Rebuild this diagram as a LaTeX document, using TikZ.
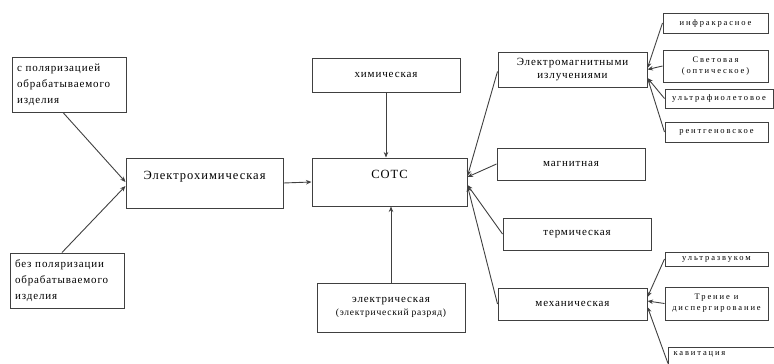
\documentclass[tikz,border=0pt]{standalone}
\usepackage{fontspec}
\setmainfont{Liberation Serif}[LetterSpace=8]
\newfontfamily\leaffont{Liberation Serif}[LetterSpace=22]
\usetikzlibrary{arrows.meta}

\begin{document}
\begin{tikzpicture}[
    x = 1pt, y = -1pt,
    box/.style = {
        draw = black!75, line width = 1pt, fill = white,
        inner sep = 3pt, align = center,
        font = \fontsize{11}{13}\selectfont
    },
    note/.style = {box, align = left, font = \fontsize{11}{16}\selectfont},
    headbox/.style = {box, inner ysep = 0pt, font = \fontsize{12.5}{14}\selectfont},
    leaf/.style = {box, inner sep = 1pt, font = \leaffont\fontsize{8.5}{11}\selectfont},
    link/.style = {draw = black!75, line width = 0.9pt, -{Stealth[length = 5.5pt, width = 4.5pt]}}
]
\useasboundingbox (0,0) rectangle (774,364);

% sources of the electrochemical action
\node [note, minimum width = 114, minimum height = 55, text width = 104] (pola) at (69,84.5)
    {с поляризацией обрабатываемого изделия};
\node [note, minimum width = 114, minimum height = 55, text width = 104] (nopola) at (67,280.5)
    {без поляризации обрабатываемого изделия};
\node [headbox, minimum width = 157, text height = 21, text depth = 29] (echem) at (204.5,183)
    {Электрохимическая};

% the centre
\node [headbox, minimum width = 155, text height = 20, text depth = 28] (sots) at (389.5,182) {СОТС};
\node [box, minimum width = 148, minimum height = 34] (chem) at (386,75) {химическая};
\node [box, minimum width = 148, minimum height = 49] (elec) at (391,307.5)
    {электрическая\\{\fontsize{9.5}{12}\selectfont(электрический разряд)}};

% right column
\node [box, minimum width = 149, minimum height = 35] (emrad) at (572.5,69.5)
    {Электромагнитными\\излучениями};
\node [box, minimum width = 148, minimum height = 32] (magn) at (571,164) {магнитная};
\node [box, minimum width = 148, minimum height = 32] (therm) at (577,234) {термическая};
\node [box, minimum width = 149, minimum height = 32] (mech) at (572.5,304) {механическая};

% kinds of radiation
\node [leaf, minimum width = 105, minimum height = 20] (ir) at (715.5,23) {инфракрасное};
\node [leaf, minimum width = 105, minimum height = 32] (vis) at (715.5,66) {Световая\\(оптическое)};
\node [leaf, minimum width = 108, minimum height = 19] (uv) at (719,98.5) {ультрафиолетовое};
\node [leaf, minimum width = 103, minimum height = 20] (xray) at (716.5,132) {рентгеновское};

% kinds of mechanical action
\node [leaf, minimum width = 103, minimum height = 14] (usound) at (716.5,259) {ультразвуком};
\node [leaf, minimum width = 103, minimum height = 33] (fric) at (716.5,303.5) {Трение и\\диспергирование};
\node [leaf, anchor = north west, minimum width = 110, text width = 100, align = left,
    text height = 7, text depth = 15] (cav) at (668,347) {кавитация};

\draw [link] ([xshift = -6pt]pola.south) -- ([yshift = 1pt]echem.west);
\draw [link] ([xshift = -5pt]nopola.north) -- ([yshift = -3pt]echem.west);
\draw [link] (echem.east) -- (sots.west);
\draw [link] (chem.south) -- (chem.south |- sots.north);
\draw [link] (elec.north) -- (elec.north |- sots.south);

\draw [link] ([yshift = -2pt]emrad.west) -- ([yshift = 6pt]sots.east);
\draw [link] (magn.west) -- ([yshift = 5pt]sots.east);
\draw [link] (therm.west) -- ([yshift = -3pt]sots.east);
\draw [link] (mech.west) -- ([yshift = -4pt]sots.east);

\draw [link] (ir.west) -- ([yshift = 1.5pt]emrad.east);
\draw [link] (vis.west) -- ([yshift = 0pt]emrad.east);
\draw [link] (uv.west) -- ([yshift = -8.5pt]emrad.east);
\draw [link] (xray.west) -- ([yshift = -8.5pt]emrad.east);

\draw [link] (usound.west) -- ([yshift = 7pt]mech.east);
\draw [link] (fric.west) -- ([yshift = 3pt]mech.east);
\draw [link] ([yshift = -4pt]cav.west) -- ([yshift = -3pt]mech.east);
\end{tikzpicture}
\end{document}
